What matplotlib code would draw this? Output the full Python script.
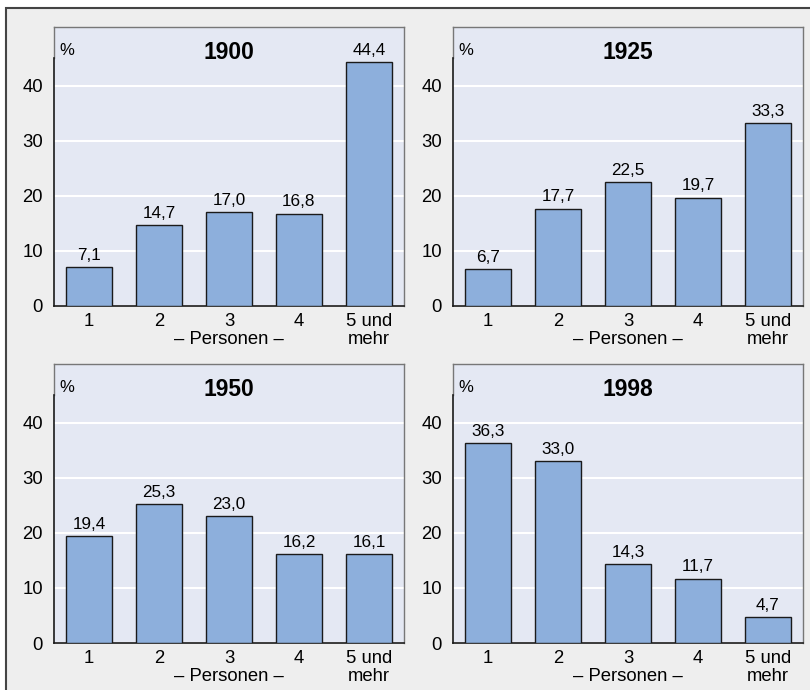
import matplotlib
matplotlib.use("Agg")
import matplotlib.pyplot as plt
from matplotlib.patches import Rectangle

plt.rcParams['font.family'] = ['Liberation Sans', 'DejaVu Sans']

# Haushaltsgroessen in Prozent
years = ["1900", "1925", "1950", "1998"]
categories = ["1", "2", "3\n\u2013 Personen \u2013", "4", "5 und\nmehr"]
values_1900 = [7.1, 14.7, 17.0, 16.8, 44.4]
values_1925 = [6.7, 17.7, 22.5, 19.7, 33.3]
values_1950 = [19.4, 25.3, 23.0, 16.2, 16.1]
values_1998 = [36.3, 33.0, 14.3, 11.7, 4.7]
yticks = [0, 10, 20, 30, 40]

W, H = 810, 690
fig = plt.figure(figsize=(W / 100, H / 100), dpi=100)
fig.patch.set_facecolor("white")

# grey backdrop with dark top/left rule
fig.patches.append(Rectangle((6 / W, -0.1), 1.2, (H - 8) / H + 0.1,
                             transform=fig.transFigure, facecolor="#eeeeee",
                             edgecolor="#444444", linewidth=1.5, zorder=-10))

# axes boxes in pixels: left, top
boxes = [(54, 27), (453, 27), (54, 364), (453, 364)]
aw, ah = 350, 279
ytop = 50.7

for (left, top), year, vals in zip(boxes, years,
                                   [values_1900, values_1925, values_1950, values_1998]):
    ax = fig.add_axes([left / W, (H - top - ah) / H, aw / W, ah / H])
    ax.set_facecolor("#e4e8f3")
    x = range(len(vals))
    bars = ax.bar(x, vals, width=0.65, color="#8dafdc", edgecolor="#1a1a1a",
                  linewidth=1, zorder=3)
    for b, v in zip(bars, vals):
        ax.annotate(f"{v:.1f}".replace(".", ","), (b.get_x() + b.get_width() / 2, v),
                    xytext=(0, 3), textcoords="offset points", ha="center",
                    va="bottom", fontsize=12.3, zorder=4)
    ax.set_xlim(-0.5, 4.5)
    ax.set_ylim(0, ytop)
    ax.set_yticks(yticks)
    ax.set_xticks(list(x))
    ax.set_xticklabels(categories, fontsize=13.3, linespacing=1.05)
    ax.tick_params(axis="y", length=0, pad=8, labelsize=13.3)
    ax.tick_params(axis="x", length=0, pad=5)
    ax.grid(axis="y", color="white", linewidth=1.5, zorder=1)
    ax.set_axisbelow(True)
    for s in ["top", "right"]:
        ax.spines[s].set_color("#777777")
        ax.spines[s].set_linewidth(1)
    ax.spines["bottom"].set_color("#1a1a1a")
    ax.spines["bottom"].set_linewidth(1.2)
    ax.spines["left"].set_color("#1a1a1a")
    ax.spines["left"].set_linewidth(1.2)
    ax.spines["left"].set_bounds(0, 45)
    ax.plot([0, 0], [45 / ytop, 1], transform=ax.transAxes, color="#777777",
            linewidth=1, clip_on=False)
    ax.text(0.015, 0.915, "%", transform=ax.transAxes, fontsize=12,
            ha="left", va="center")
    ax.text(0.5, 0.91, year, transform=ax.transAxes, fontsize=16.5,
            fontweight="bold", ha="center", va="center")

fig.savefig("out.png", dpi=100)
